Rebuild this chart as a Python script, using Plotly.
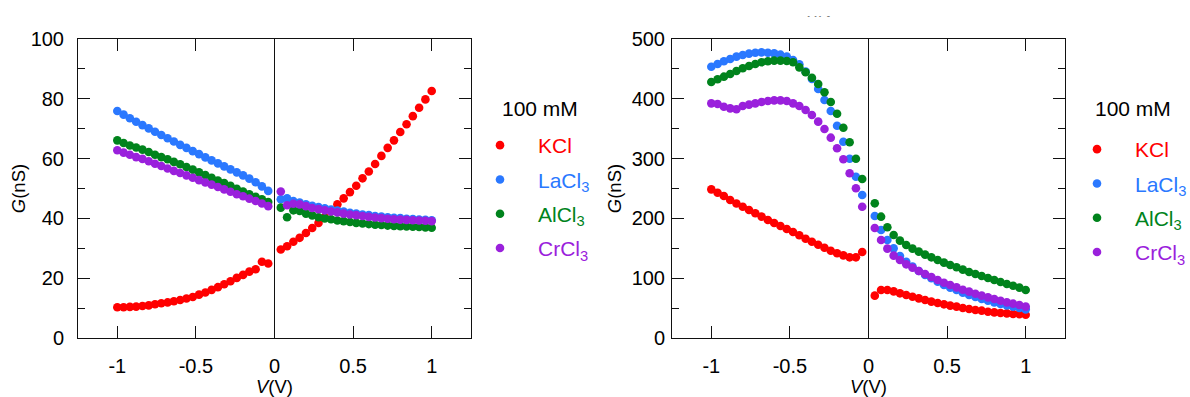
import plotly.graph_objects as go

# Bias voltage sweep (V): 25 points on each side of 0 V
V = [-1.00, -0.96, -0.92, -0.88, -0.84, -0.80, -0.76, -0.72, -0.68, -0.64,
     -0.60, -0.56, -0.52, -0.48, -0.44, -0.40, -0.36, -0.32, -0.28, -0.24,
     -0.20, -0.16, -0.12, -0.08, -0.04,
     0.04, 0.08, 0.12, 0.16, 0.20, 0.24, 0.28, 0.32, 0.36, 0.40,
     0.44, 0.48, 0.52, 0.56, 0.60, 0.64, 0.68, 0.72, 0.76, 0.80,
     0.84, 0.88, 0.92, 0.96, 1.00]

SALTS = ["KCl", "LaCl3", "AlCl3", "CrCl3"]
LABELS = ["KCl", "LaCl<sub>3</sub>", "AlCl<sub>3</sub>", "CrCl<sub>3</sub>"]
COLORS = ["#ff0000", "#2a78ff", "#00831c", "#9a20dc"]

# Left panel conductance G (nS)
KCl_L = [10.3, 10.3, 10.4, 10.5, 10.7, 10.9, 11.3, 11.6, 11.9, 12.3, 12.7, 13.2, 13.7,
         14.5, 15.2, 16.1, 17.0, 18.0, 19.0, 20.1, 21.1, 22.2, 23.0, 25.5, 24.9,
         29.6, 30.7, 32.2, 33.5, 35.1, 36.8, 38.5, 40.4, 42.5, 44.7, 46.7, 48.8, 50.9,
         53.4, 55.7, 58.2, 60.9, 63.6, 66.1, 68.9, 71.5, 74.2, 77.0, 79.8, 82.6]
LaCl3_L = [75.9, 74.7, 73.5, 72.3, 71.2, 70.1, 69.0, 67.9, 66.8, 65.7, 64.6, 63.6, 62.5,
           61.5, 60.4, 59.4, 58.4, 57.4, 56.4, 55.4, 54.4, 53.3, 52.1, 50.7, 49.2,
           46.4, 46.7, 45.8, 45.3, 44.7, 44.2, 43.8, 43.4, 43.0, 42.6, 42.3, 41.9, 41.6,
           41.3, 41.1, 40.8, 40.6, 40.4, 40.2, 40.1, 39.9, 39.8, 39.6, 39.5, 39.4]
AlCl3_L = [66.1, 65.2, 64.4, 63.7, 63.0, 62.2, 61.3, 60.5, 59.8, 58.9, 58.1, 57.2, 56.3,
           55.4, 54.5, 53.6, 52.7, 51.8, 50.9, 49.9, 49.0, 48.1, 47.2, 46.4, 45.5,
           43.6, 40.4, 42.7, 42.5, 41.6, 41.0, 40.4, 40.0, 39.7, 39.3, 39.1, 38.8, 38.5,
           38.3, 38.1, 37.9, 37.8, 37.6, 37.5, 37.4, 37.3, 37.2, 37.1, 37.0, 36.9]
CrCl3_L = [62.8, 62.0, 61.3, 60.5, 59.9, 59.1, 58.3, 57.5, 56.7, 55.9, 55.2, 54.4, 53.6,
           52.8, 52.0, 51.3, 50.5, 49.7, 48.9, 48.1, 47.4, 46.6, 45.8, 45.0, 44.1,
           49.0, 44.4, 44.9, 44.7, 44.1, 43.5, 43.1, 42.7, 42.3, 42.0, 41.6, 41.3, 41.1,
           40.8, 40.5, 40.3, 40.1, 39.9, 39.7, 39.6, 39.5, 39.4, 39.3, 39.2, 39.1]

# Right panel conductance G (nS)
KCl_R = [248.6, 243.0, 237.5, 230.8, 225.0, 219.6, 214.0, 208.5, 203.0, 197.3, 192.3,
         187.3, 182.3, 177.3, 171.7, 166.0, 161.0, 156.0, 151.0, 146.0, 141.6, 138.2,
         134.9, 134.9, 143.8,
         70.8, 80.3, 80.3, 78.0, 74.7, 71.9, 69.1, 66.3, 63.5, 60.8, 58.5, 56.3, 54.1,
         52.4, 50.2, 48.5, 46.8, 45.7, 44.0, 42.9, 41.8, 41.2, 40.1, 39.6, 39.0]
LaCl3_R = [453.7, 458.2, 462.7, 466.6, 470.5, 473.2, 475.5, 477.1, 477.7, 477.1, 476.0,
           473.8, 470.5, 464.9, 457.6, 445.4, 433.1, 416.4, 398.0, 379.6, 355.0, 328.3,
           299.8, 269.7, 239.1,
           204.0, 180.6, 163.9, 149.9, 137.1, 127.6, 119.3, 112.0, 105.4, 99.8, 94.2,
           88.6, 84.2, 80.3, 75.8, 71.9, 68.6, 65.2, 62.4, 59.6, 56.9, 54.6, 52.4, 50.2, 47.9]
AlCl3_R = [428.0, 432.6, 437.0, 441.5, 446.5, 451.0, 454.8, 458.2, 461.0, 462.7, 463.8,
           463.8, 463.2, 461.0, 452.6, 444.3, 435.3, 424.7, 410.9, 394.6, 375.1, 351.7,
           327.3, 299.8, 265.9,
           225.2, 202.9, 185.1, 172.2, 162.8, 155.5, 149.4, 144.4, 139.4, 134.9, 130.4,
           126.0, 122.1, 118.2, 114.3, 110.4, 107.0, 103.7, 100.3, 97.0, 93.6, 90.3,
           87.5, 84.2, 80.3]
CrCl3_R = [392.4, 391.3, 386.8, 384.0, 382.4, 388.0, 390.2, 392.4, 394.6, 396.3, 397.4,
           397.4, 396.3, 392.4, 388.0, 381.3, 372.9, 361.8, 349.5, 335.0, 317.2, 298.8,
           275.4, 250.3, 219.6,
           183.9, 163.9, 149.4, 137.7, 130.4, 123.2, 117.6, 112.0, 107.0, 102.0, 97.0,
           92.5, 88.6, 84.7, 80.8, 77.5, 74.1, 70.8, 68.0, 65.2, 62.4, 59.6, 57.4, 55.2, 52.4]

LEFT = [KCl_L, LaCl3_L, AlCl3_L, CrCl3_L]
RIGHT = [KCl_R, LaCl3_R, AlCl3_R, CrCl3_R]

X_TICKS = [-1, -0.5, 0, 0.5, 1]
X_TICKTEXT = ["-1", "-0.5", "0", "0.5", "1"]

FONT = "Liberation Sans, Arial, sans-serif"
TICK_SIZE = 20
TITLE_SIZE = 18.5
LEG_SIZE = 21

fig = go.Figure()

for series, xa, ya, leg in [(LEFT, "x", "y", "legend"), (RIGHT, "x2", "y2", "legend2")]:
    for i, (salt, ys) in enumerate(zip(SALTS, series)):
        fig.add_trace(go.Scatter(
            x=V, y=ys, mode="markers", xaxis=xa, yaxis=ya,
            name=f"<span style='color:{COLORS[i]}'>{LABELS[i]}</span>",
            legend=leg, legendgroup=f"{leg}-{salt}",
            marker=dict(color=COLORS[i], size=8.6, line=dict(width=0)),
        ))

W, H = 1190, 397
ML, MR, MT, MB = 78, 125, 39, 59
PW, PH = W - ML - MR, H - MT - MB


def px(x):
    return (x - ML) / PW


def py(y):
    return (H - MB - y) / PH


def x_axis(domain):
    return dict(
        domain=domain, range=[-1.25, 1.25], tickvals=X_TICKS, ticktext=X_TICKTEXT,
        showline=True, linecolor="#111", linewidth=1, mirror="ticks",
        ticks="inside", ticklen=12, tickwidth=1, tickcolor="#111",
        showgrid=False, zeroline=True, zerolinecolor="#111", zerolinewidth=1,
        tickfont=dict(family=FONT, size=TICK_SIZE, color="#000"),
        ticklabelstandoff=10, automargin=False,
        title=dict(text="<i>V</i>(V)", font=dict(family=FONT, size=TITLE_SIZE, color="#000"),
                   standoff=8),
    )


def y_axis(top, step, standoff, anchor, title_standoff):
    return dict(
        domain=[0, 1], range=[0, top], dtick=step, anchor=anchor,
        showline=True, linecolor="#111", linewidth=1, mirror="ticks",
        ticks="inside", ticklen=12, tickwidth=1, tickcolor="#111",
        minor=dict(dtick=step / 2, ticks="inside", ticklen=7, tickwidth=1, tickcolor="#111"),
        showgrid=False, zeroline=False,
        tickfont=dict(family=FONT, size=TICK_SIZE, color="#000"),
        ticklabelstandoff=standoff, automargin=False,
        title=dict(text="<i>G</i>(nS)", font=dict(family=FONT, size=TITLE_SIZE, color="#000"),
                   standoff=title_standoff),
    )


legend_common = dict(
    font=dict(family=FONT, size=LEG_SIZE, color="#000"),
    bgcolor="rgba(0,0,0,0)", borderwidth=0, itemwidth=66,
    tracegroupgap=4, xanchor="left", yanchor="top", itemclick=False,
)

fig.update_layout(
    width=W, height=H,
    margin=dict(l=ML, r=MR, t=MT, b=MB, pad=0, autoexpand=False),
    paper_bgcolor="white", plot_bgcolor="white",
    font=dict(family=FONT, size=TICK_SIZE, color="#000"),
    xaxis=x_axis([0, px(471)]),
    yaxis=y_axis(100, 20, 9, "x", 0),
    xaxis2=x_axis([px(672), 1.0]),
    yaxis2=y_axis(500, 100, 2, "x2", 5),
    legend=dict(x=px(462), y=py(125), **legend_common),
    legend2=dict(x=px(1059), y=py(129), **legend_common),
    showlegend=True,
)
fig.update_layout(xaxis2=dict(anchor="y2"))

# Concentration headers above the legends
for xpos in (500, 1093):
    fig.add_annotation(x=px(xpos), y=py(109), xref="paper", yref="paper",
                       text="100 mM", showarrow=False, xanchor="left", yanchor="middle",
                       font=dict(family=FONT, size=LEG_SIZE, color="#000"))

# Panel label at the top edge, mostly hidden under a white band
fig.add_annotation(x=px(817), y=py(23), xref="paper", yref="paper", text="TiN",
                   showarrow=False, xanchor="center", yanchor="bottom",
                   font=dict(family=FONT, size=TITLE_SIZE, color="#000"))
fig.add_annotation(x=px(817), y=1.0 + MT / PH, xref="paper", yref="paper", text=" ",
                   showarrow=False, xanchor="center", yanchor="top", width=90, height=13,
                   bgcolor="white", borderpad=1,
                   font=dict(family=FONT, size=10, color="#fff"))

fig.write_html("out.html")
